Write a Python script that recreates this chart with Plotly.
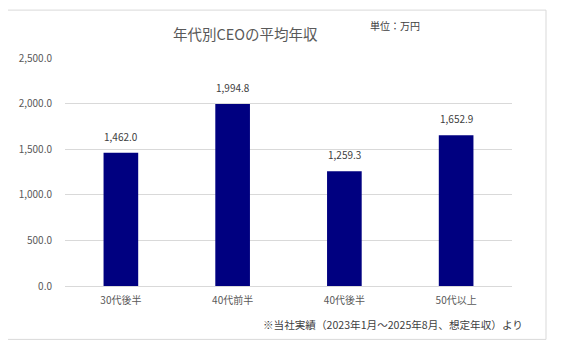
import plotly.graph_objects as go

categories = ["30代後半", "40代前半", "40代後半", "50代以上"]
values = [1462.0, 1994.8, 1259.3, 1652.9]
tick_vals = [0, 500, 1000, 1500, 2000, 2500]
tick_text = ["0.0", "500.0", "1,000.0", "1,500.0", "2,000.0", "2,500.0"]

FONT = "Noto Sans CJK JP"
GRAY = "#595959"

OFF = 8  # page body margin
L, R, T, B = 65 - OFF, 512 - OFF, 58 - OFF, 286.5 - OFF
W, H = 566 - 2 * OFF, 364 - 2 * OFF
pw, ph = R - L, B - T

def px(x):
    return (x - OFF - L) / pw

def py(y):
    return (B - (y - OFF)) / ph

fig = go.Figure(go.Bar(
    x=categories, y=values,
    marker=dict(color="#000080", line=dict(width=0)),
    width=0.31,
    hoverinfo="x+y",
))

label_annotations = [
    dict(x=c, y=v, xref="x", yref="y", text=f"{v:,.1f}", showarrow=False,
         yanchor="bottom", yshift=7, font=dict(size=10, color="#404040", family=FONT))
    for c, v in zip(categories, values)
]

fig.update_layout(
    width=W, height=H,
    margin=dict(l=L, r=W - R, t=T, b=H - B),
    paper_bgcolor="white", plot_bgcolor="white",
    font=dict(family=FONT, color=GRAY),
    showlegend=False,
    xaxis=dict(showgrid=False, showline=True, linecolor="#d9d9d9", linewidth=1,
               ticks="", tickfont=dict(size=10, color=GRAY, family=FONT),
               ticklabelstandoff=5),
    yaxis=dict(range=[0, 2500], tickvals=tick_vals, ticktext=tick_text,
               showgrid=True, gridcolor="#d9d9d9", gridwidth=1,
               zeroline=False, showline=False, ticks="",
               tickfont=dict(size=10, color=GRAY, family=FONT), ticklabelstandoff=12),
    annotations=label_annotations + [
        dict(text="年代別CEOの平均年収", xref="paper", yref="paper",
             x=px(245), y=py(33), xanchor="center", yanchor="middle",
             showarrow=False, font=dict(size=14.5, color=GRAY, family=FONT)),
        dict(text="単位：万円", xref="paper", yref="paper",
             x=px(368), y=py(25), xanchor="left", yanchor="middle",
             showarrow=False, font=dict(size=10, color="#404040", family=FONT)),
        dict(text="※当社実績（2023年1月～2025年8月、想定年収）より", xref="paper", yref="paper",
             x=px(525), y=py(325), xanchor="right", yanchor="middle",
             showarrow=False, font=dict(size=10.6, color="#404040", family=FONT)),
    ],
    shapes=[
        dict(type="rect", xref="paper", yref="paper",
             x0=px(6), x1=px(546), y0=py(340), y1=py(10),
             line=dict(color="#d9d9d9", width=1), fillcolor="rgba(0,0,0,0)", layer="below"),
    ],
)

fig.write_html("out.html")
